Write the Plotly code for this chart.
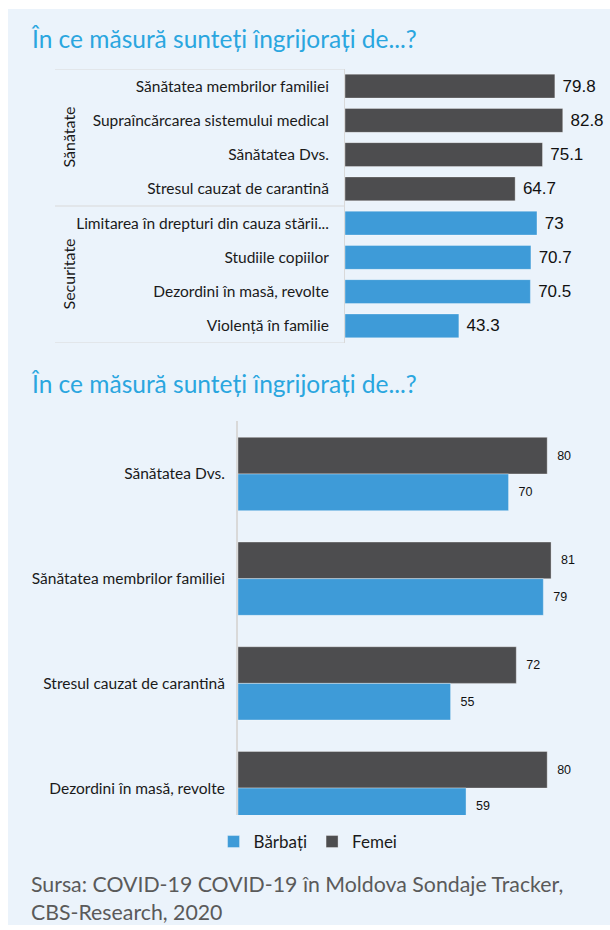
import plotly.graph_objects as go

# ---------------- data ----------------
title_text = "În ce măsură sunteți îngrijorați de...?"

top_categories = [
    "Sănătatea membrilor familiei",
    "Supraîncărcarea sistemului medical",
    "Sănătatea Dvs.",
    "Stresul cauzat de carantină",
    "Limitarea în drepturi din cauza stării...",
    "Studiile copiilor",
    "Dezordini în masă, revolte",
    "Violență în familie",
]
top_values = [79.8, 82.8, 75.1, 64.7, 73, 70.7, 70.5, 43.3]
top_groups = ["Sănătate"] * 4 + ["Securitate"] * 4

bottom_categories = [
    "Sănătatea Dvs.",
    "Sănătatea membrilor familiei",
    "Stresul cauzat de carantină",
    "Dezordini în masă, revolte",
]
femei_values = [80, 81, 72, 80]
barbati_values = [70, 79, 55, 59]

source_text = "Sursa: COVID-19 COVID-19 în Moldova Sondaje Tracker,<br>CBS-Research, 2020"

# ---------------- style ----------------
W, H = 610, 930
DARK = "#4D4D4F"
BLUE = "#3E9BD8"
PANEL = "#EBF3FB"
TITLE_C = "#2AA6DF"
LINE_C = "#D9D9D9"
LABEL_FONT = "Lato, Open Sans, sans-serif"
VAL_FONT = "Liberation Sans, Arial, sans-serif"
NB = "\u00a0"

def px_x(p):
    return p / W

def px_y(p):
    return 1 - p / H

group_color = {"Sănătate": DARK, "Securitate": BLUE}
top_colors = [group_color[g] for g in top_groups]

fig = go.Figure()

fig.add_trace(go.Bar(
    x=top_values, y=top_categories, orientation="h",
    marker=dict(color=top_colors, line=dict(color="rgba(255,255,255,0.35)", width=1)),
    text=[f"{NB}{v:g}" for v in top_values], textposition="outside",
    textfont=dict(family=VAL_FONT, size=17, color="#111111"),
    cliponaxis=False, showlegend=False, xaxis="x", yaxis="y",
    hoverinfo="skip",
))

fig.add_trace(go.Bar(
    name="Femei", x=femei_values, y=bottom_categories, orientation="h",
    marker=dict(color=DARK, line=dict(color="rgba(255,255,255,0.35)", width=1)),
    text=[f"{NB}{NB}{v:g}" for v in femei_values], textposition="outside",
    textfont=dict(family=VAL_FONT, size=12.5, color="#111111"),
    cliponaxis=False, xaxis="x2", yaxis="y2", legendrank=2,
))
fig.add_trace(go.Bar(
    name="Bărbați", x=barbati_values, y=bottom_categories, orientation="h",
    marker=dict(color=BLUE, line=dict(color="rgba(255,255,255,0.35)", width=1)),
    text=[f"{NB}{NB}{v:g}" for v in barbati_values], textposition="outside",
    textfont=dict(family=VAL_FONT, size=12.5, color="#111111"),
    cliponaxis=False, xaxis="x2", yaxis="y2", legendrank=1,
))

shapes = [dict(type="rect", xref="paper", yref="paper",
               x0=px_x(8), x1=1.0, y0=px_y(925), y1=px_y(9),
               fillcolor=PANEL, line=dict(width=0), layer="below")]
for yv in [-0.5, 3.5, 7.5]:
    shapes.append(dict(type="line", xref="paper", yref="y",
                       x0=px_x(55), x1=px_x(345), y0=yv, y1=yv,
                       line=dict(color=LINE_C, width=1), layer="below"))

annotations = [
    dict(text=title_text, xref="paper", yref="paper", x=px_x(29), y=px_y(38),
         xanchor="left", yanchor="middle", showarrow=False,
         font=dict(family=LABEL_FONT, size=24.5, color=TITLE_C)),
    dict(text=title_text, xref="paper", yref="paper", x=px_x(29), y=px_y(383),
         xanchor="left", yanchor="middle", showarrow=False,
         font=dict(family=LABEL_FONT, size=24.5, color=TITLE_C)),
    dict(text=source_text, xref="paper", yref="paper", x=px_x(29), y=px_y(898),
         xanchor="left", yanchor="middle", align="left", showarrow=False,
         font=dict(family=LABEL_FONT, size=21.3, color="#5A5A5A")),
]
for g, yc in [("Sănătate", 1.5), ("Securitate", 5.5)]:
    annotations.append(dict(text=g, xref="paper", yref="y", x=px_x(68), y=yc,
                            textangle=-90, showarrow=False,
                            xanchor="center", yanchor="middle",
                            font=dict(family=LABEL_FONT, size=16, color="#1A1A1A")))

fig.update_layout(
    width=W, height=H,
    margin=dict(l=0, r=0, t=0, b=0),
    paper_bgcolor="white", plot_bgcolor="rgba(0,0,0,0)",
    barmode="group", bargap=0.3,
    shapes=shapes, annotations=annotations,
    xaxis=dict(domain=[px_x(345), 1.0], range=[0, 265 / 2.63], visible=False, fixedrange=True),
    yaxis=dict(domain=[px_y(343), px_y(69)], type="category",
               categoryorder="array", categoryarray=top_categories,
               range=[7.5, -0.5], anchor="x",
               showline=True, linecolor=LINE_C, linewidth=1,
               showgrid=False, ticks="", ticklabelstandoff=12,
               tickfont=dict(family=LABEL_FONT, size=15.5, color="#1A1A1A")),
    xaxis2=dict(domain=[px_x(238), 1.0], range=[0, 372 / 3.865], visible=False,
                anchor="y2", fixedrange=True),
    yaxis2=dict(domain=[px_y(815), px_y(421)], type="category",
                categoryorder="array", categoryarray=bottom_categories,
                range=[3.257, -0.506], anchor="x2",
                showline=True, linecolor=LINE_C, linewidth=2,
                showgrid=False, ticks="", ticklabelstandoff=8,
                tickfont=dict(family=LABEL_FONT, size=15.5, color="#1A1A1A")),
    legend=dict(orientation="h", x=0.505, xanchor="center", y=px_y(842), yanchor="middle",
                font=dict(family=LABEL_FONT, size=17, color="#1A1A1A"),
                bgcolor="rgba(0,0,0,0)", itemwidth=30, traceorder="normal"),
)

fig.write_html(
    "out.html",
    config={"displayModeBar": False},
    post_script="document.body.style.margin='0';document.body.style.padding='0';"
                "document.documentElement.style.overflow='hidden';",
)
